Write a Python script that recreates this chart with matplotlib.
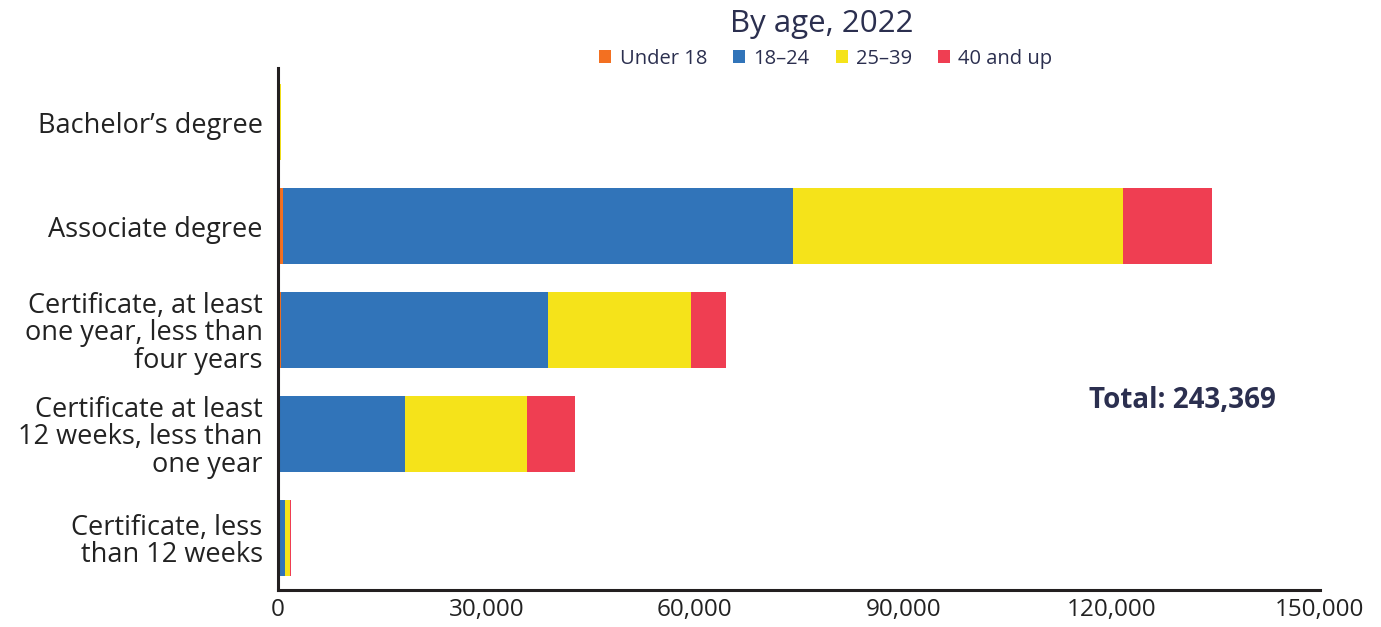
import numpy as np
import matplotlib.pyplot as plt

categories = [
    "Bachelor\u2019s degree",
    "Associate degree",
    "Certificate, at least\none year, less than\nfour years",
    "Certificate at least\n12 weeks, less than\none year",
    "Certificate, less\nthan 12 weeks",
]
age_groups = ["Under 18", "18\u201324", "25\u201339", "40 and up"]
under_18 = [120, 700, 400, 300, 300]
age_18_24 = [30, 73400, 38500, 18000, 700]
age_25_39 = [250, 47500, 20600, 17570, 700]
age_40_up = [0, 12800, 5000, 6900, 200]
total = 243369
x_ticks = [0, 30000, 60000, 90000, 120000, 150000]

colors = ["#f37021", "#3174b9", "#f5e31a", "#ef3e52"]
navy = "#2b2f4f"
plt.rcParams["font.family"] = ["Open Sans", "DejaVu Sans"]

fig = plt.figure(figsize=(13.81, 6.27), dpi=100)
ax = fig.add_axes([0.2013, 0.059, 0.7545, 0.8325])

y = np.arange(len(categories))
left = np.zeros(len(categories))
for name, vals, c in zip(age_groups, [under_18, age_18_24, age_25_39, age_40_up], colors):
    ax.barh(y, vals, left=left, height=0.73, color=c, label=name)
    left += np.array(vals)

ax.set_ylim(len(categories) - 0.5, -0.52)
ax.set_xlim(0, 150000)
ax.set_yticks(y)
ax.set_yticklabels(categories, fontsize=19.5, color="#222222", linespacing=0.98)
ax.set_xticks(x_ticks)
ax.set_xticklabels([f"{v:,}" for v in x_ticks], fontsize=17.5, color="#222222")
ax.tick_params(length=0, pad=6)
ax.tick_params(axis="y", pad=11)

for s in ["top", "right"]:
    ax.spines[s].set_visible(False)
for s in ["left", "bottom"]:
    ax.spines[s].set_color("#231f20")
    ax.spines[s].set_linewidth(2.2)

fig.text(0.595, 0.962, "By age, 2022", ha="center", va="center", fontsize=22.5, color=navy)
fig.legend(*ax.get_legend_handles_labels(), loc="center", bbox_to_anchor=(0.598, 0.906),
           ncol=4, frameon=False, fontsize=14.5, handlelength=0.6, handleheight=0.6,
           handletextpad=0.4, columnspacing=1.3, labelcolor=navy, borderaxespad=0)
ax.text(130200, 2.68, f"Total: {total:,}", ha="center", va="center",
        fontsize=20, fontweight="bold", color=navy)

fig.savefig("out.png", dpi=100)
